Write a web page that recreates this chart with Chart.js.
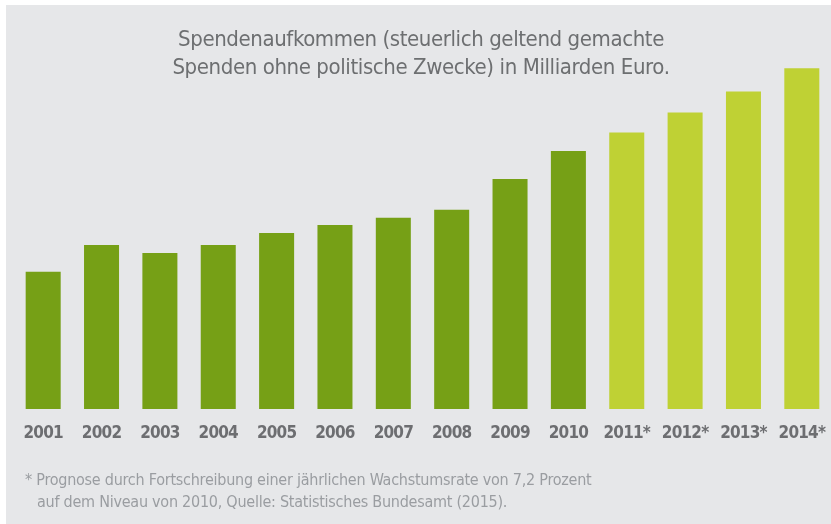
<!DOCTYPE html>
<html>
<head>
<meta charset="utf-8">
<script src="https://cdn.jsdelivr.net/npm/chart.js@4"></script>
<style>
  html, body { margin: 0; padding: 0; background: #fff; }
  #wrap { width: 831px; height: 524px; }
</style>
</head>
<body>
<div id="wrap"><canvas id="spenden"></canvas></div>
<script>
const jahre = ['2001', '2002', '2003', '2004', '2005', '2006', '2007', '2008', '2009', '2010', '2011*', '2012*', '2013*', '2014*'];
// Milliarden Euro, aus dem Bild geschätzt
const spenden = [3.43, 4.1, 3.9, 4.1, 4.4, 4.6, 4.78, 4.98, 5.75, 6.45, 6.91, 7.41, 7.94, 8.52];
const prognose = [false, false, false, false, false, false, false, false, false, false, true, true, true, true];
const titelZeilen = ['Spendenaufkommen (steuerlich geltend gemachte', 'Spenden ohne politische Zwecke) in Milliarden Euro.'];
const fussnote = ['* Prognose durch Fortschreibung einer jährlichen Wachstumsrate von 7,2 Prozent', 'auf dem Niveau von 2010, Quelle: Statistisches Bundesamt (2015).'];

const schrift = "'Liberation Sans Narrow', 'DejaVu Sans Condensed', 'Arial Narrow', sans-serif";

const hintergrund = {
    id: 'hintergrund',
    beforeDraw(chart) {
        const c = chart.ctx;
        c.save();
        c.fillStyle = '#ffffff';
        c.fillRect(0, 0, chart.width, chart.height);
        c.fillStyle = '#e6e7e9';
        c.fillRect(6, 5, chart.width - 6, chart.height - 5);
        c.restore();
        // engere Jahreszahlen
        c.letterSpacing = '-0.8px';
    },
    afterDraw(chart) {
        const c = chart.ctx;
        c.save();
        c.textBaseline = 'middle';
        c.fillStyle = '#6d6f71';
        c.font = '22px ' + schrift;
        c.letterSpacing = '-0.4px';
        c.textAlign = 'center';
        c.fillText(titelZeilen[0], 421, 40);
        c.fillText(titelZeilen[1], 421, 68);
        c.fillStyle = '#9a9da1';
        c.font = '16px ' + schrift;
        c.letterSpacing = '-0.25px';
        c.textAlign = 'left';
        c.fillText(fussnote[0], 25, 481);
        c.fillText(fussnote[1], 37, 503);
        c.restore();
        c.letterSpacing = '0px';
    }
};

const ctx = document.getElementById('spenden').getContext('2d');
const chart = new Chart(ctx, {
    type: 'bar',
    data: {
        labels: jahre,
        datasets: [{
            label: 'Spenden',
            data: spenden,
            backgroundColor: prognose.map(p => p ? '#bfd134' : '#76a016'),
            borderWidth: 0,
            categoryPercentage: 1,
            barPercentage: 0.6
        }]
    },
    options: {
        responsive: true,
        maintainAspectRatio: false,
        animation: false,
        layout: { padding: { top: 49, left: 14, right: 0, bottom: 66 } },
        plugins: {
            legend: { display: false },
            tooltip: { enabled: false }
        },
        scales: {
            x: {
                grid: { display: false, drawTicks: false },
                border: { display: false },
                ticks: {
                    color: '#6d6e71',
                    padding: 0,
                    maxRotation: 0,
                    minRotation: 0,
                    autoSkip: false,
                    font: { family: schrift, size: 17, weight: 'bold', lineHeight: 2.88 }
                }
            },
            y: {
                display: false,
                min: 0,
                max: 9
            }
        }
    },
    plugins: [hintergrund]
});
</script>
</body>
</html>
